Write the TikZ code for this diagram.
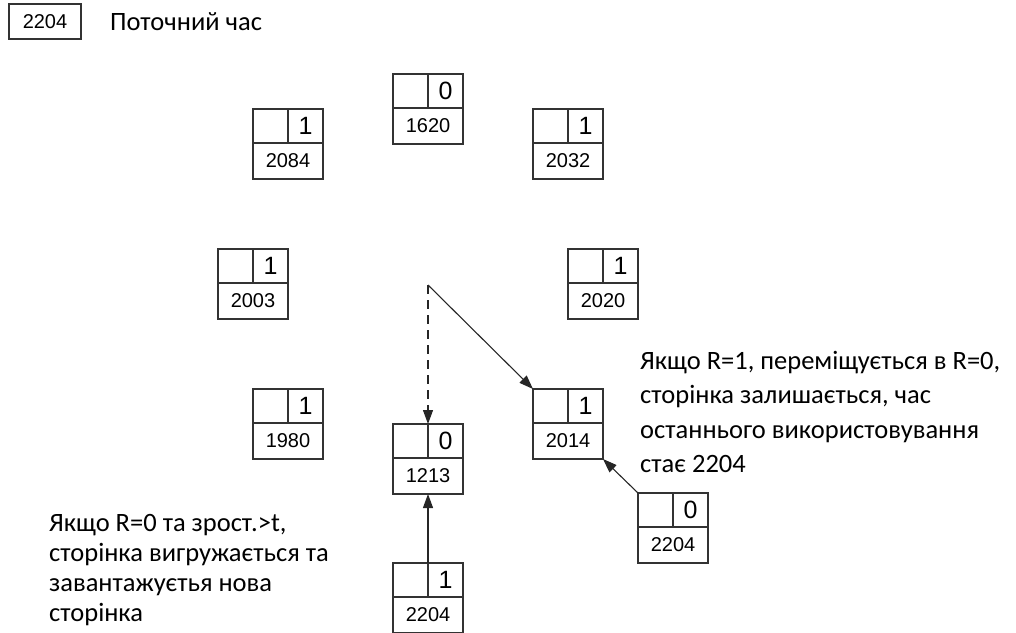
\documentclass[tikz,border=0pt]{standalone}
\usepackage{fontspec}
\setmainfont{Carlito}
\newfontfamily\numfont{Liberation Sans}
\usetikzlibrary{arrows.meta,positioning}

\begin{document}
\begin{tikzpicture}[
    x=1pt, y=-1pt,
    bitcell/.style={rectangle, draw=black!80, line width=1.2pt, minimum width=35pt, minimum height=34pt, inner sep=0pt, outer sep=0pt, font=\numfont\fontsize{25}{25}\selectfont},
    timecell/.style={rectangle, draw=black!80, line width=1.2pt, minimum width=70pt, minimum height=36pt, inner sep=0pt, outer sep=0pt, font=\numfont\fontsize{20}{20}\selectfont},
    note/.style={align=left, inner sep=0pt, font=\fontsize{26.5}{34.5}\selectfont},
    arrow/.style={-{Triangle[length=14pt, width=10pt]}, line width=1.1pt, draw=black!85}
]
\useasboundingbox (0,0) rectangle (1016,632);

\node[timecell, minimum width=72pt, minimum height=35pt, anchor=north west] (clock) at (9,4) {2204};
\node[anchor=base west, inner sep=0pt, font=\fontsize{26.5}{26.5}\selectfont] (clocklabel) at (110,30) {Поточний час};

\foreach \nm/\x/\y/\r/\t in {p1620/393/74/0/1620, p2084/253/109/1/2084, p2032/533/109/1/2032,
    p2003/218/249/1/2003, p2020/568/249/1/2020, p1980/253/389/1/1980,
    p1213/393/424/0/1213, p2014/533/389/1/2014, phit/638/493/0/2204, pnew/393/563/1/2204}{
  \node[bitcell, anchor=north west] (\nm empty) at (\x,\y) {};
  \node[bitcell, right=0pt of \nm empty] (\nm bit) {\r};
  \node[timecell, anchor=north west] (\nm time) at (\nm empty.south west) {\t};
}

\coordinate (fork) at (428,285);
\draw[arrow, dash pattern=on 9pt off 6pt] (fork) -- (p1213bit.north west);
\draw[arrow] (fork) -- (p2014empty.north west);
\draw[arrow] (pnewbit.north west) -- (p1213time.south);
\draw[arrow] (phitempty.north west) -- (p2014time.south east);

\node[note, anchor=north west] (keepnote) at (640,351) {Якщо R=1, переміщується в R=0,\\сторінка залишається, час\\останнього використовування\\стає 2204};
\node[note, font=\fontsize{26.5}{30}\selectfont, anchor=north west] (outnote) at (49,514) {Якщо R=0 та зрост.>t,\\сторінка вигружається та\\завантажуєтья нова\\сторінка};
\end{tikzpicture}
\end{document}
